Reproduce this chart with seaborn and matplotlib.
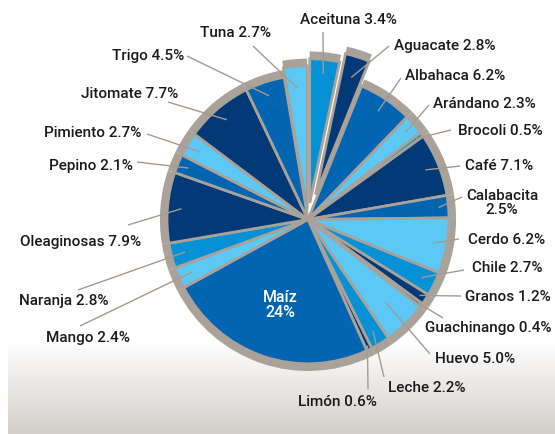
import numpy as np
import matplotlib
matplotlib.use("Agg")
import matplotlib.pyplot as plt
import seaborn as sns

# Datos
productos = ["Aceituna", "Aguacate", "Albahaca", "Arándano", "Brocoli", "Café",
             "Calabacita", "Cerdo", "Chile", "Granos", "Guachinango", "Huevo",
             "Leche", "Limón", "Maíz", "Mango", "Naranja", "Oleaginosas",
             "Pepino", "Pimiento", "Jitomate", "Trigo", "Tuna"]
porcentajes = [3.4, 2.8, 6.2, 2.3, 0.5, 7.1, 2.5, 6.2, 2.7, 1.2, 0.4, 5.0,
               2.2, 0.6, 24, 2.4, 2.8, 7.9, 2.1, 2.7, 7.7, 4.5, 2.7]
etiquetas = ["Aceituna 3.4%", "Aguacate 2.8%", "Albahaca 6.2%", "Arándano 2.3%",
             "Brocoli 0.5%", "Café 7.1%", "Calabacita\n2.5%", "Cerdo 6.2%",
             "Chile 2.7%", "Granos 1.2%", "Guachinango 0.4%", "Huevo 5.0%",
             "Leche 2.2%", "Limón 0.6%", "Maíz\n24%", "Mango 2.4%",
             "Naranja 2.8%", "Oleaginosas 7.9%", "Pepino 2.1%", "Pimiento 2.7%",
             "Jitomate 7.7%", "Trigo 4.5%", "Tuna 2.7%"]
tonos = ["brillante", "marino", "medio", "claro", "brillante", "marino", "medio",
         "claro", "brillante", "marino", "medio", "claro", "brillante", "marino",
         "medio", "claro", "brillante", "marino", "medio", "claro", "marino",
         "medio", "claro"]
separados = {"Tuna": 0.065, "Aceituna": 0.115, "Aguacate": 0.18}

# Estilo
paleta = {"marino": "#023a78", "medio": "#0265b1", "brillante": "#0491d5",
          "claro": "#5cc8f5"}
GRIS = "#aaa199"
LINEA = "#a39a92"
FS = 11

# Geometria en pixeles de la imagen (centro del pastel y escala)
W, H = 555, 435
CX, CY = 308, 220.5
SX, SY = 141.0, 144.3


def px(x, y):
    return (x - CX) / SX, (CY - y) / SY


# Posicion de cada etiqueta: (x, y, alineacion, fin de linea x, y, radio)
layout = {
    "Aceituna": (348, 20, "center", 323, 33, 0.9),
    "Aguacate": (394, 46, "left", 389, 47, 0.85),
    "Albahaca": (405, 76, "left", 401, 79, 0.9),
    "Arándano": (433, 104, "left", 429, 106, 0.92),
    "Brocoli": (458, 131, "left", 451, 131, 0.95),
    "Café": (465, 166, "left", 460, 167, 0.9),
    "Calabacita": (502, 203, "center", 462, 198, 0.93),
    "Cerdo": (468, 240, "left", 459, 240, 0.9),
    "Chile": (472, 268, "left", 464, 271, 0.9),
    "Granos": (465, 297, "left", 461, 297, 0.95),
    "Guachinango": (425, 328, "left", 443, 319, 0.97),
    "Huevo": (435, 359, "left", 430, 355, 0.8),
    "Leche": (388, 388, "left", 384, 378, 0.9),
    "Limón": (337, 402, "center", 368, 390, 0.97),
    "Mango": (46, 338, "left", 80, 327, 0.9),
    "Naranja": (19, 301, "left", 78, 291, 0.9),
    "Oleaginosas": (20, 242, "left", 128, 226, 0.9),
    "Pepino": (133, 166, "right", 137, 163, 0.92),
    "Pimiento": (141, 133, "right", 147, 135, 0.9),
    "Jitomate": (178, 94, "right", 168, 103, 0.9),
    "Trigo": (184, 56, "right", 187, 57, 0.9),
    "Tuna": (271, 33, "right", 253, 47, 0.85),
}

sns.set_theme(style="white")
plt.rcParams["font.family"] = ["Roboto", "Liberation Sans", "DejaVu Sans"]

fig = plt.figure(figsize=(W / 100, H / 100), dpi=100)
ax = fig.add_axes([0, 0, 1, 1])

colores = [paleta[t] for t in tonos]
explode = [separados.get(p, 0) for p in productos]

# Borde gris exterior y pastel de color encima
ax.pie(porcentajes, radius=1.05, colors=[GRIS] * len(porcentajes), explode=explode,
       startangle=90, counterclock=False, wedgeprops=dict(linewidth=0))
wedges, _ = ax.pie(porcentajes, radius=1.0, colors=colores, explode=explode,
                   startangle=90, counterclock=False,
                   wedgeprops=dict(edgecolor=GRIS, linewidth=2))

# Fondo degradado en la parte inferior
grad = np.linspace(0, 1, 100)[:, None]
x0, y0 = px(8, 435)
x1, y1 = px(W, 342)
cmap = matplotlib.colors.LinearSegmentedColormap.from_list("fondo", ["#ffffff", "#d3ceca"])
ax.imshow(grad, extent=(x0, x1, y0, y1), cmap=cmap, aspect="auto", zorder=-5,
          origin="upper")

for w, nombre, texto in zip(wedges, productos, etiquetas):
    ang = np.deg2rad((w.theta1 + w.theta2) / 2)
    cx, cy = w.center
    if nombre == "Maíz":
        ax.text(cx + 0.62 * np.cos(ang), cy + 0.62 * np.sin(ang), texto,
                color="white", fontsize=FS + 0.5, fontweight="medium", ha="center",
                va="center", linespacing=1.0)
        continue
    tx, ty, ha, lx, ly, r = layout[nombre]
    sx, sy = cx + r * np.cos(ang), cy + r * np.sin(ang)
    ex, ey = px(lx, ly)
    ax.plot([sx, ex], [sy, ey], color=LINEA, lw=1.0, solid_capstyle="butt")
    ax.text(*px(tx, ty), texto, color="#1b1b1b", fontsize=FS, fontweight="medium",
            ha=ha, va="center", linespacing=1.0, multialignment="center")

ax.set_aspect("auto")
ax.set_xlim(-CX / SX, (W - CX) / SX)
ax.set_ylim((CY - H) / SY, CY / SY)
ax.axis("off")

fig.savefig("out.png", dpi=100, facecolor="white")
